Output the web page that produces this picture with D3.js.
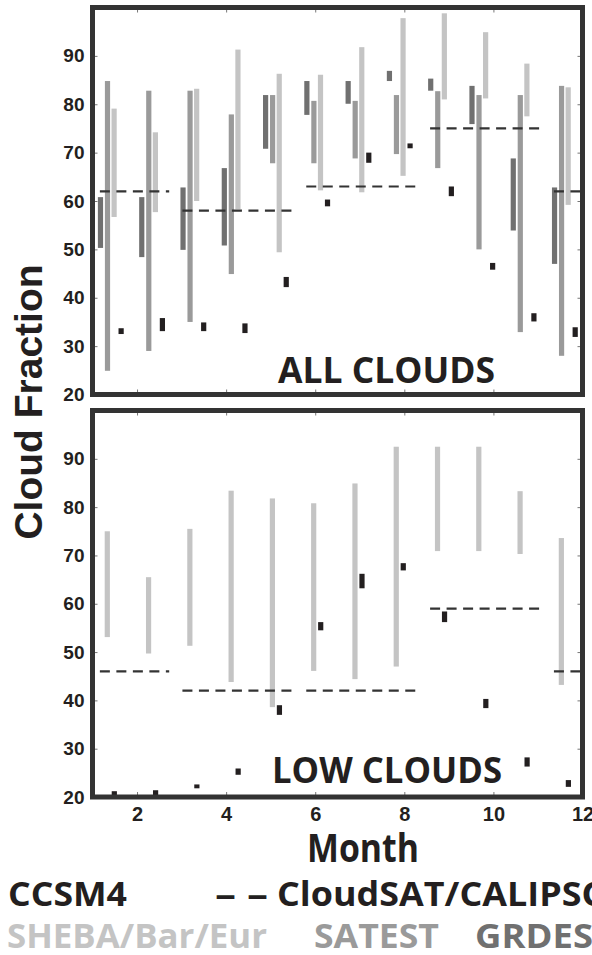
<!DOCTYPE html>
<html>
<head>
<meta charset="utf-8">
<script src="https://cdn.jsdelivr.net/npm/d3@7"></script>
<style>
  body { margin: 0; background: #fff; }
  svg { display: block; }
</style>
</head>
<body>
<svg id="chart" width="592" height="955"></svg>
<script>
// months on the x axis
const months = [1, 2, 3, 4, 5, 6, 7, 8, 9, 10, 11, 12];
const yTicks = [20, 30, 40, 50, 60, 70, 80, 90];
const xTicks = [2, 4, 6, 8, 10, 12];

// ALL CLOUDS: [min, max] per month
const grdesAll = [[50.3, 60.8], [48.4, 60.8], [49.9, 62.8], [50.8, 66.8], [70.8, 81.9], [77.8, 84.8],
  [80.1, 84.8], [84.8, 86.9], [82.8, 85.3], [75.9, 83.8], [53.9, 68.8], [47.0, 62.8]];
const satestAll = [[24.9, 84.8], [29.0, 82.8], [35.0, 82.8], [44.9, 77.9], [67.8, 81.9], [67.8, 80.7],
  [68.8, 80.7], [69.7, 81.9], [66.8, 82.7], [50.0, 81.9], [32.9, 81.9], [28.0, 83.8]];
const shebaAll = [[56.7, 79.1], [57.7, 74.2], [60.0, 83.2], [58.3, 91.3], [49.4, 86.3], [62.2, 86.1],
  [61.8, 91.8], [65.2, 97.8], [81.0, 98.8], [81.2, 94.9], [77.5, 88.4], [59.2, 83.5]];
const ccsmAll = [[32.5, 33.7], [33.1, 35.8], [33.1, 34.9], [32.7, 34.7], [42.2, 44.3], [58.9, 60.3],
  [67.9, 70.0], [70.9, 71.9], [61.0, 63.0], [45.8, 47.2], [35.1, 36.8], [31.9, 33.9]];

// LOW CLOUDS
const shebaLow = [[53.1, 75.0], [49.7, 65.5], [51.3, 75.5], [43.8, 83.4], [38.6, 81.8], [46.1, 80.8],
  [44.4, 84.9], [47.0, 92.5], [70.9, 92.5], [70.9, 92.5], [70.3, 83.3], [43.2, 73.6]];
const ccsmLow = [[20.3, 21.2], [20.4, 21.4], [21.8, 22.6], [24.6, 25.9], [37.0, 39.0], [54.5, 56.2],
  [63.2, 66.2], [66.9, 68.4], [56.2, 58.4], [38.4, 40.3], [26.3, 28.2], [22.1, 23.5]];

// CloudSAT/CALIPSO seasonal means
const seasonStart = [1, 3, 6, 9, 12];
const seasonEnd = [2, 5, 8, 11, 12];
const calipsoAll = [62, 58, 63, 75, 62];
const calipsoLow = [46, 42, 42, 59, 46];

const colors = { grdes: "#707070", satest: "#9a9a9a", sheba: "#c4c4c4", ccsm: "#231f20", frame: "#333" };

const svg = d3.select("#chart");

// x scale for month axis, band scale for the bar groups
const x = d3.scaleLinear().domain([1, 12]).range([92.5, 582.5]);
const slot = d3.scaleBand().domain(months).range([x(0.98), x(12.1)]);
const bw = slot.bandwidth();

const panels = [
  { top: 7.5, bottom: 394.5, name: "ALL CLOUDS", nameX: 278, nameY: 383, nameW: 217, showX: false,
    series: [
      { data: grdesAll, color: colors.grdes, pos: 0.215 },
      { data: satestAll, color: colors.satest, pos: 0.385 },
      { data: shebaAll, color: colors.sheba, pos: 0.545 },
      { data: ccsmAll, color: colors.ccsm, pos: 0.715 }
    ], calipso: calipsoAll },
  { top: 410.5, bottom: 797, name: "LOW CLOUDS", nameX: 272, nameY: 783, nameW: 230, showX: true,
    series: [
      { data: shebaLow, color: colors.sheba, pos: 0.38 },
      { data: ccsmLow, color: colors.ccsm, pos: 0.55 }
    ], calipso: calipsoLow }
];

panels.forEach(p => {
  const y = d3.scaleLinear().domain([20, 100]).range([p.bottom, p.top]);
  const g = svg.append("g");

  // bars
  p.series.forEach(s => {
    g.selectAll(null)
      .data(s.data)
      .enter()
      .append("rect")
      .attr("x", (d, i) => slot(months[i]) + s.pos * bw - 2.6)
      .attr("width", 5.2)
      .attr("y", d => y(d[1]))
      .attr("height", d => Math.max(3, y(d[0]) - y(d[1])))
      .attr("fill", s.color);
  });

  // dashed seasonal lines
  g.selectAll(null)
    .data(p.calipso)
    .enter()
    .append("line")
    .attr("x1", (d, i) => slot(seasonStart[i]) + 0.2 * bw)
    .attr("x2", (d, i) => Math.min(x(12), slot(seasonEnd[i]) + 0.88 * bw))
    .attr("y1", d => y(d))
    .attr("y2", d => y(d))
    .attr("stroke", "#333")
    .attr("stroke-width", 2.2)
    .attr("stroke-dasharray", "10,6.5");

  // axes, ticks inside
  const left = g.append("g")
    .attr("transform", `translate(${x(1)},0)`)
    .call(d3.axisLeft(y).tickValues(yTicks).tickSize(-5).tickPadding(8));
  left.selectAll("text")
    .style("font-family", "'Liberation Sans', Arial, sans-serif")
    .style("font-weight", "bold")
    .style("font-size", "19px")
    .attr("fill", "#231f20");

  g.append("g")
    .attr("transform", `translate(${x(12)},0)`)
    .call(d3.axisRight(y).tickValues(yTicks).tickSize(-5).tickFormat(""));

  g.append("g")
    .attr("transform", `translate(0,${p.top})`)
    .call(d3.axisTop(x).tickValues(xTicks).tickSize(-5).tickFormat(""));

  const bottom = g.append("g")
    .attr("transform", `translate(0,${p.bottom})`)
    .call(d3.axisBottom(x).tickValues(xTicks).tickSize(-5).tickPadding(10)
      .tickFormat(p.showX ? d3.format("d") : ""));
  bottom.selectAll("text")
    .style("font-family", "'Liberation Sans', Arial, sans-serif")
    .style("font-weight", "bold")
    .style("font-size", "20px")
    .attr("fill", "#231f20");

  g.selectAll(".domain").remove();
  g.selectAll(".tick line").attr("stroke", "#777").attr("stroke-width", 1);

  // frame
  g.append("rect")
    .attr("x", x(1))
    .attr("y", p.top)
    .attr("width", x(12) - x(1))
    .attr("height", p.bottom - p.top)
    .attr("fill", "none")
    .attr("stroke", colors.frame)
    .attr("stroke-width", 5);

  // panel name
  g.append("text")
    .attr("x", p.nameX)
    .attr("y", p.nameY)
    .attr("textLength", p.nameW)
    .attr("lengthAdjust", "spacingAndGlyphs")
    .style("font-family", "'Open Sans', sans-serif")
    .style("font-weight", "bold")
    .style("font-size", "36px")
    .attr("fill", "#231f20")
    .text(p.name);
});

// y label
svg.append("text")
  .attr("transform", "translate(42,402) rotate(-90)")
  .attr("text-anchor", "middle")
  .style("font-family", "'Liberation Sans', Arial, sans-serif")
  .style("font-weight", "bold")
  .style("font-size", "39px")
  .attr("fill", "#231f20")
  .text("Cloud Fraction");

// x label
svg.append("text")
  .attr("x", 307)
  .attr("y", 862)
  .attr("textLength", 112)
  .attr("lengthAdjust", "spacingAndGlyphs")
  .style("font-family", "'Open Sans', sans-serif")
  .style("font-weight", "bold")
  .style("font-size", "40px")
  .attr("fill", "#231f20")
  .text("Month");

// legend, widths matched to the original lettering (last ones run past the edge)
function legendText(tx, ty, w, label, color) {
  return svg.append("text")
    .attr("x", tx)
    .attr("y", ty)
    .attr("textLength", w)
    .attr("lengthAdjust", "spacingAndGlyphs")
    .style("font-family", "'Open Sans', sans-serif")
    .style("font-weight", "bold")
    .style("font-size", "34px")
    .attr("fill", color)
    .text(label);
}
legendText(8, 906, 119, "CCSM4", colors.ccsm);
legendText(215, 906, 53, "\u2013 \u2013", colors.ccsm);
legendText(277, 906, 333, "CloudSAT/CALIPSO", colors.ccsm);
legendText(7, 948, 260, "SHEBA/Bar/Eur", colors.sheba);
legendText(314, 948, 125, "SATEST", colors.satest);
legendText(475, 948, 118, "GRDES", colors.grdes);
</script>
</body>
</html>
